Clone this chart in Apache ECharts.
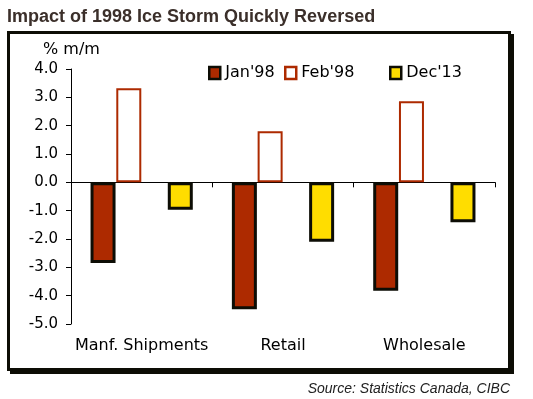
<!DOCTYPE html>
<html>
<head>
<meta charset="utf-8">
<script src="https://cdn.jsdelivr.net/npm/echarts@6/dist/echarts.min.js"></script>
<style>
  html, body { margin: 0; padding: 0; background: #fff; }
  #chart { width: 533px; height: 399px; }
</style>
</head>
<body>
<div id="chart"></div>
<script>
// values
const categories = ['Manf. Shipments', 'Retail', 'Wholesale'];
const jan98 = [-2.85, -4.48, -3.83];
const feb98 = [3.32, 1.8, 2.86];
const dec13 = [-0.97, -2.1, -1.41];
const blankSlot = [null, null, null]; // empty slot between Feb'98 and Dec'13

const RED = '#ad2a00';
const YELLOW = '#ffdd00';
const INK = '#0d0d05';
const AXIS_FONT = '"DejaVu Sans", Verdana, sans-serif';

const chart = echarts.init(document.getElementById('chart'));

function legendAt(left, name, itemStyle) {
  return {
    left: left,
    top: 60,
    icon: 'rect',
    itemWidth: 11,
    itemHeight: 12,
    itemGap: 0,
    selectedMode: false,
    textStyle: { color: '#000', fontSize: 16, fontFamily: AXIS_FONT, padding: [0, 0, 0, 0] },
    data: [{ name: name, itemStyle: itemStyle }]
  };
}

const option = {
  animation: false,
  title: [
    {
      text: 'Impact of 1998 Ice Storm Quickly Reversed',
      left: 7,
      top: 8,
      padding: 0,
      textStyle: { color: '#3b2f2a', fontSize: 18, fontWeight: 'bold', fontFamily: '"Liberation Sans", Arial, sans-serif' }
    },
    {
      text: 'Source: Statistics Canada, CIBC',
      right: 23,
      top: 382,
      padding: 0,
      textStyle: { color: '#222', fontSize: 14, fontStyle: 'italic', fontWeight: 'normal', fontFamily: '"Liberation Sans", Arial, sans-serif' }
    }
  ],
  graphic: [
    // frame shadow
    { type: 'rect', z: 0, silent: true, shape: { x: 10, y: 34, width: 504, height: 340 }, style: { fill: INK } },
    // frame
    { type: 'rect', z: 0, silent: true, shape: { x: 8.5, y: 32.5, width: 501, height: 337 }, style: { fill: '#fff', stroke: INK, lineWidth: 3 } },
    // unit label
    { type: 'text', z: 1, silent: true, x: 43, y: 50, style: { text: '% m/m', fill: '#000', font: '16px "DejaVu Sans", Verdana, sans-serif', verticalAlign: 'middle' } }
  ],
  legend: [
    legendAt(203, "Jan'98", { color: RED, borderColor: INK, borderWidth: 2.5 }),
    legendAt(279, "Feb'98", { color: '#fff', borderColor: RED, borderWidth: 2.5 }),
    legendAt(384, "Dec'13", { color: YELLOW, borderColor: INK, borderWidth: 2.5 })
  ],
  grid: { left: 71, right: 38, top: 69, bottom: 75, containLabel: false, outerBoundsMode: 'none' },
  xAxis: [
    {
      type: 'category',
      data: categories,
      position: 'bottom',
      axisLine: { show: false, onZero: false },
      axisTick: { show: false },
      splitLine: { show: false },
      axisLabel: { color: '#000', fontSize: 16, fontFamily: AXIS_FONT, margin: 14, interval: 0 }
    },
    {
      // zero line with category dividers
      type: 'category',
      data: categories,
      position: 'bottom',
      axisLine: { show: true, onZero: true, lineStyle: { color: '#000', width: 1 } },
      axisTick: { show: true, length: 5, lineStyle: { color: '#000', width: 1 } },
      splitLine: { show: false },
      axisLabel: { show: false }
    }
  ],
  yAxis: {
    type: 'value',
    min: -5,
    max: 4,
    interval: 1,
    axisLine: { show: true, lineStyle: { color: '#000', width: 1 } },
    axisTick: { show: true, length: 5, inside: false, lineStyle: { color: '#000', width: 1 } },
    splitLine: { show: false },
    axisLabel: {
      color: '#000',
      fontSize: 15,
      fontFamily: AXIS_FONT,
      margin: 13,
      formatter: v => v.toFixed(1)
    }
  },
  series: [
    {
      name: "Jan'98", type: 'bar', data: jan98, barWidth: 25, barGap: '3%',
      itemStyle: { color: RED, borderColor: INK, borderWidth: 3 },
      emphasis: { disabled: true }
    },
    {
      name: "Feb'98", type: 'bar', data: feb98, barWidth: 25, barGap: '3%',
      itemStyle: { color: '#fff', borderColor: RED, borderWidth: 2 },
      emphasis: { disabled: true }
    },
    {
      name: 'blank', type: 'bar', data: blankSlot, barWidth: 25, barGap: '3%',
      emphasis: { disabled: true }
    },
    {
      name: "Dec'13", type: 'bar', data: dec13, barWidth: 25, barGap: '3%',
      itemStyle: { color: YELLOW, borderColor: INK, borderWidth: 3 },
      emphasis: { disabled: true }
    }
  ]
};

chart.setOption(option);
</script>
</body>
</html>
